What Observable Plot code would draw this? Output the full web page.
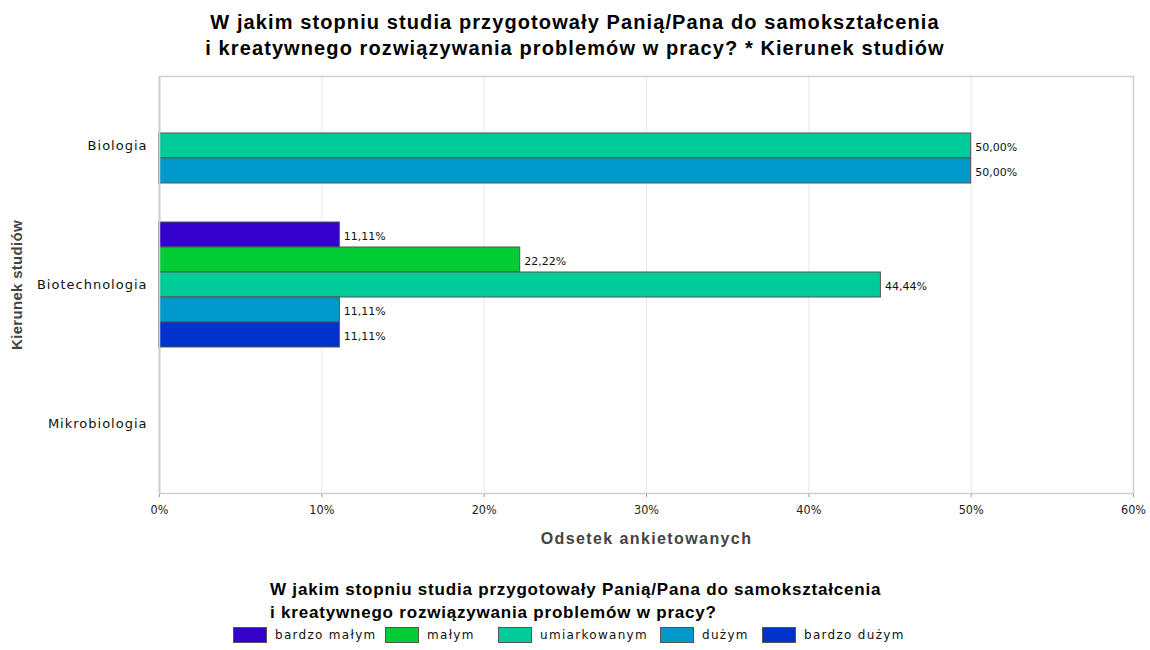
<!DOCTYPE html>
<html>
<head>
<meta charset="utf-8">
<script src="https://cdn.jsdelivr.net/npm/d3@7"></script>
<script src="https://cdn.jsdelivr.net/npm/@observablehq/plot@0.6"></script>
<style>
  html, body { margin: 0; padding: 0; background: #fff; }
  body { width: 1150px; height: 650px; position: relative; overflow: hidden; font-family: "Liberation Sans", Arial, sans-serif; }
  #title { position: absolute; top: 9px; left: 0; width: 1150px; text-align: center; font-weight: bold; font-size: 20px; line-height: 26px; letter-spacing: 1.1px; color: #000; }
  #chart { position: absolute; top: 62px; left: 0; }
  #legend { position: absolute; top: 578px; left: 233px; }
  #legend-title { margin-left: 37px; font-weight: bold; font-size: 17px; line-height: 23px; letter-spacing: 0.8px; color: #000; }
  #legend-items { display: flex; align-items: center; margin-top: 3px; }
  .item { display: flex; align-items: center; }
  .item:nth-child(1) { width: 152px; }
  .item:nth-child(2) { width: 113px; }
  .item:nth-child(3) { width: 162px; }
  .item:nth-child(4) { width: 102px; }
  .sw { width: 32px; height: 14px; border: 1px solid #555; margin-right: 8px; flex: none; }
  .lab { font-family: "DejaVu Sans", sans-serif; font-size: 12px; letter-spacing: 1.3px; color: #111; white-space: nowrap; }
</style>
</head>
<body>
<div id="title">W jakim stopniu studia przygotowały Panią/Pana do samokształcenia<br>i kreatywnego rozwiązywania problemów w pracy? * Kierunek studiów</div>
<div id="chart"></div>
<div id="legend">
  <div id="legend-title">W jakim stopniu studia przygotowały Panią/Pana do samokształcenia<br>i kreatywnego rozwiązywania problemów w pracy?</div>
  <div id="legend-items"></div>
</div>
<script>
const categories = ["Biologia", "Biotechnologia", "Mikrobiologia"];
const levels = ["bardzo małym", "małym", "umiarkowanym", "dużym", "bardzo dużym"];
const colors = ["#3300cc", "#00cc33", "#00cc99", "#0099cc", "#0033cc"];
const biologia = [null, null, 50.00, 50.00, null];
const biotechnologia = [11.11, 22.22, 44.44, 11.11, 11.11];
const mikrobiologia = [null, null, null, null, null];
const xTicks = [0, 10, 20, 30, 40, 50, 60];
const xLabel = "Odsetek ankietowanych";
const yLabel = "Kierunek studiów";

const seriesByCat = [biologia, biotechnologia, mikrobiologia];
const data = [];
categories.forEach((c, i) => {
  seriesByCat[i].forEach((v, j) => {
    if (v != null) data.push({kierunek: c, poziom: levels[j], value: v});
  });
});
const fmt = v => d3.format(".2f")(v).replace(".", ",") + "%";

// rules drawn both in non-empty facets and in empty facets
const rules = (anchor) => [
  Plot.ruleX(xTicks.slice(1, -1), {stroke: "#e8e8e8", strokeWidth: 1, facetAnchor: anchor}),
  Plot.ruleX([xTicks[0]], {stroke: "#aaa", strokeWidth: 1.5, facetAnchor: anchor}),
  Plot.ruleX([xTicks[xTicks.length - 1]], {stroke: "#d0d0d0", strokeWidth: 1, facetAnchor: anchor})
];

const chart = Plot.plot({
  width: 1150,
  height: 498,
  marginTop: 13,
  marginBottom: 67,
  marginLeft: 159,
  marginRight: 17,
  style: {fontFamily: "'DejaVu Sans', sans-serif", background: "#fff"},
  x: {domain: [0, 60], ticks: xTicks, tickFormat: d => d + "%"},
  y: {domain: levels, axis: null, paddingInner: 0, paddingOuter: 0.275},
  fy: {domain: categories, padding: 0, axis: null},
  color: {domain: levels, range: colors},
  marks: [
    ...rules(undefined),
    ...rules("empty"),
    Plot.barX(data, {x: "value", y: "poziom", fy: "kierunek", fill: "poziom", stroke: "#555", strokeWidth: 1}),
    Plot.text(data, {x: "value", y: "poziom", fy: "kierunek", text: d => fmt(d.value), textAnchor: "start", dx: 4, dy: 1, fontSize: 11, fill: "#111"}),
    Plot.axisFy({anchor: "left", tickSize: 0, tickPadding: 12, fontSize: 13, label: null, fill: "#111"}),
    Plot.axisX({anchor: "bottom", facetAnchor: "bottom", ticks: xTicks, tickFormat: d => d + "%", tickSize: 4, tickPadding: 8, stroke: "#999", fontSize: 12.5, fontFamily: "'DejaVu Sans Condensed', 'Liberation Sans Narrow', sans-serif", fill: "#222", label: null}),
    Plot.frame({facet: "super", stroke: "#cfcfcf", strokeWidth: 1.5}),
    Plot.text([xLabel], {facet: "super", frameAnchor: "bottom", lineAnchor: "middle", dy: 45, fontSize: 16, fontWeight: "bold", fill: "#444", fontFamily: "'Liberation Sans', Arial, sans-serif"}),
    Plot.text([yLabel], {facet: "super", frameAnchor: "left", textAnchor: "middle", dx: -142, rotate: -90, fontSize: 15, fontWeight: "bold", fill: "#444", fontFamily: "'Liberation Sans', Arial, sans-serif"})
  ]
});
document.getElementById("chart").appendChild(chart);
chart.querySelectorAll("text").forEach(t => {
  if (t.textContent === xLabel) t.style.letterSpacing = "1.4px";
  else if (t.textContent === yLabel) t.style.letterSpacing = "0.3px";
  else if (categories.includes(t.textContent)) t.style.letterSpacing = "1px";
});

const items = document.getElementById("legend-items");
levels.forEach((l, i) => {
  const it = document.createElement("div");
  it.className = "item";
  const sw = document.createElement("div");
  sw.className = "sw";
  sw.style.background = colors[i];
  const lab = document.createElement("span");
  lab.className = "lab";
  lab.textContent = l;
  it.appendChild(sw);
  it.appendChild(lab);
  items.appendChild(it);
});
</script>
</body>
</html>
